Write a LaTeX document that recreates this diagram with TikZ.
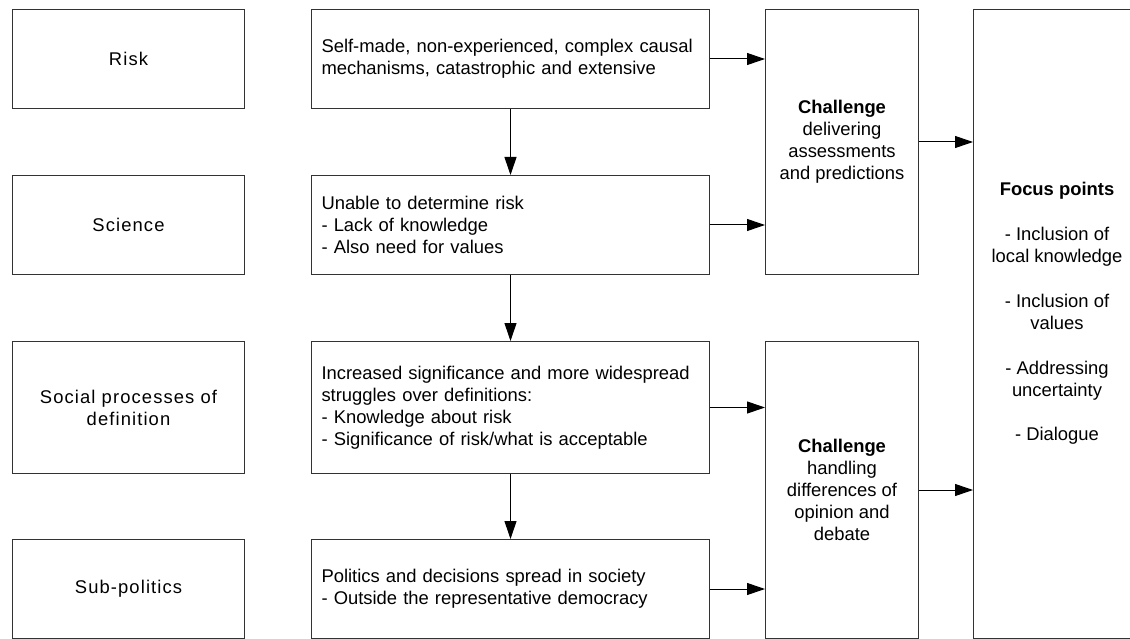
\documentclass[tikz,border=0pt]{standalone}
\usepackage{fontspec}
\setmainfont{Liberation Sans}
\newfontfamily\widesans[LetterSpace=6]{Liberation Sans}
\usetikzlibrary{arrows.meta}

\begin{document}
\begin{tikzpicture}[x=1pt,y=-1pt,
  every node/.style={font=\fontsize{18.4}{22}\selectfont},
  box/.style={draw=black!80, line width=1pt, anchor=north west, inner sep=0pt},
  leftbox/.style={box, minimum width=232pt, align=center,
    font=\widesans\fontsize{18.4}{22}\selectfont},
  midbox/.style={box, inner xsep=10pt, text width=378pt, align=left},
  chbox/.style={box, minimum width=153pt, align=center},
  flow/.style={draw=black, line width=1pt, -{Triangle[length=18pt,width=12pt]}}
]
\useasboundingbox (0,0) rectangle (1130,639);

% left column: themes
\node[leftbox, minimum height=99pt]  (lrisk) at (12,9)   {Risk};
\node[leftbox, minimum height=99pt]  (lsci)  at (12,175) {Science};
\node[leftbox, minimum height=132pt] (lsoc)  at (12,341) {Social processes of\\definition};
\node[leftbox, minimum height=99pt]  (lsub)  at (12,539) {Sub-politics};

% middle column: descriptions
\node[midbox, minimum height=99pt]  (mrisk) at (311,9)
  {Self-made, non-experienced, complex causal\\mechanisms, catastrophic and extensive};
\node[midbox, minimum height=99pt]  (msci)  at (311,175)
  {Unable to determine risk\\- Lack of knowledge\\- Also need for values};
\node[midbox, minimum height=132pt] (msoc)  at (311,341)
  {Increased significance and more widespread\\struggles over definitions:\\- Knowledge about risk\\- Significance of risk/what is acceptable};
\node[midbox, minimum height=99pt]  (msub)  at (311,539)
  {Politics and decisions spread in society\\- Outside the representative democracy};

% challenges
\node[chbox, minimum height=265pt] (ch1) at (765,9)
  {\textbf{Challenge}\\delivering\\assessments\\and predictions};
\node[chbox, minimum height=297pt] (ch2) at (765,341)
  {\textbf{Challenge}\\handling\\differences of\\opinion and\\debate};

% focus points
\node[box, minimum width=168pt, minimum height=629pt] (fp) at (973,9) {};
\node[align=center, font=\fontsize{18.4}{22.3}\selectfont] (fptxt) at (1057,313.5)
  {\textbf{Focus points}\\[22.3pt]- Inclusion of\\local knowledge\\[22.3pt]- Inclusion of\\values\\[22.3pt]- Addressing\\uncertainty\\[22.3pt]- Dialogue};

% vertical flow
\draw[flow] (mrisk.south) -- (msci.north);
\draw[flow] (msci.south) -- (msoc.north);
\draw[flow] (msoc.south) -- (msub.north);

% into the challenges
\draw[flow] (mrisk.east) -- (mrisk.east -| ch1.west);
\draw[flow] (msci.east)  -- (msci.east -| ch1.west);
\draw[flow] (msoc.east)  -- (msoc.east -| ch2.west);
\draw[flow] (msub.east)  -- (msub.east -| ch2.west);

% into the focus points
\draw[flow] (ch1.east) -- (ch1.east -| fp.west);
\draw[flow] (ch2.east) -- (ch2.east -| fp.west);
\end{tikzpicture}
\end{document}
